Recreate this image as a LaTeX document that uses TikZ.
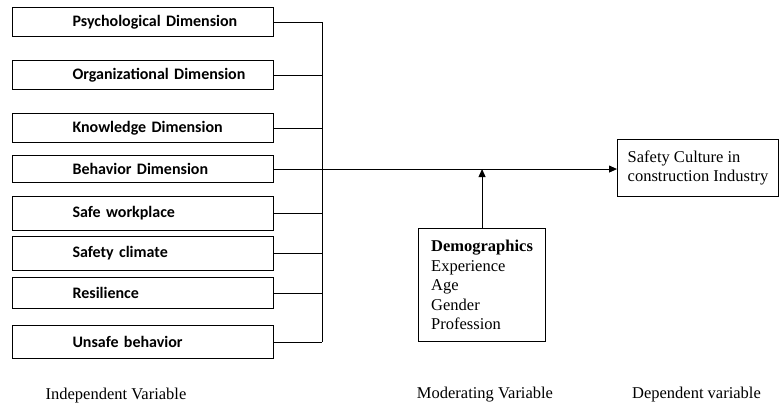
\documentclass[tikz,border=0pt]{standalone}
\usepackage{fontspec}
\setmainfont{Liberation Serif}
\newfontfamily\carl{Carlito}
\usetikzlibrary{arrows.meta}
\begin{document}
\begin{tikzpicture}[x=1pt,y=-1pt,
  ibox/.style={draw, line width=1.1pt, anchor=north west, text width=255pt, inner xsep=3pt, inner ysep=0pt, align=left, font=\carl\bfseries\fontsize{16}{18}\selectfont},
  obox/.style={draw, line width=1.1pt, anchor=north west, inner sep=0pt, align=left, font=\fontsize{16.5}{19.5}\selectfont},
  conn/.style={line width=0.9pt},
  arr/.style={line width=0.9pt, -{Triangle[length=8pt,width=7pt]}},
  lab/.style={font=\fontsize{16.5}{18}\selectfont, inner sep=0pt}]
\useasboundingbox (0,0) rectangle (779,407);
\coordinate (busx) at (322,0);
\node[ibox, minimum height=29pt] (b1) at (12,7) {\hspace*{57pt}Psychological Dimension};
\node[ibox, minimum height=29pt] (b2) at (12,60) {\hspace*{57pt}Organizational Dimension};
\node[ibox, minimum height=29pt] (b3) at (12,113) {\hspace*{57pt}Knowledge Dimension};
\node[ibox, minimum height=27pt] (b4) at (12,155) {\hspace*{57pt}Behavior Dimension};
\node[ibox, minimum height=34pt] (b5) at (12,196) {\hspace*{57pt}Safe workplace};
\node[ibox, minimum height=34pt] (b6) at (12,236) {\hspace*{57pt}Safety climate};
\node[ibox, minimum height=31pt] (b7) at (12,277) {\hspace*{57pt}Resilience};
\node[ibox, minimum height=33pt] (b8) at (12,325) {\hspace*{57pt}Unsafe behavior};
\node[obox, minimum width=161pt, minimum height=57pt] (out) at (617,139) {Safety Culture in\\construction Industry};
\node[obox, minimum width=127pt, minimum height=113pt] (dem) at (418,228) {\textbf{Demographics}\\Experience\\Age\\Gender\\Profession};
\foreach \i in {1,2,3,5,6,7,8} {\draw[conn] (b\i.east) -- (b\i.east -| busx);}
\draw[conn] (b1.east -| busx) -- (b8.east -| busx);
\draw[arr] (b4.east) -- (b4.east -| out.west);
\draw[arr] (dem.north) -- (dem.north |- b4.east);
\node[lab] (l1) at (116,396) {Independent Variable};
\node[lab] (l2) at (485,395) {Moderating Variable};
\node[lab] (l3) at (696.5,395) {Dependent variable};
\end{tikzpicture}
\end{document}
